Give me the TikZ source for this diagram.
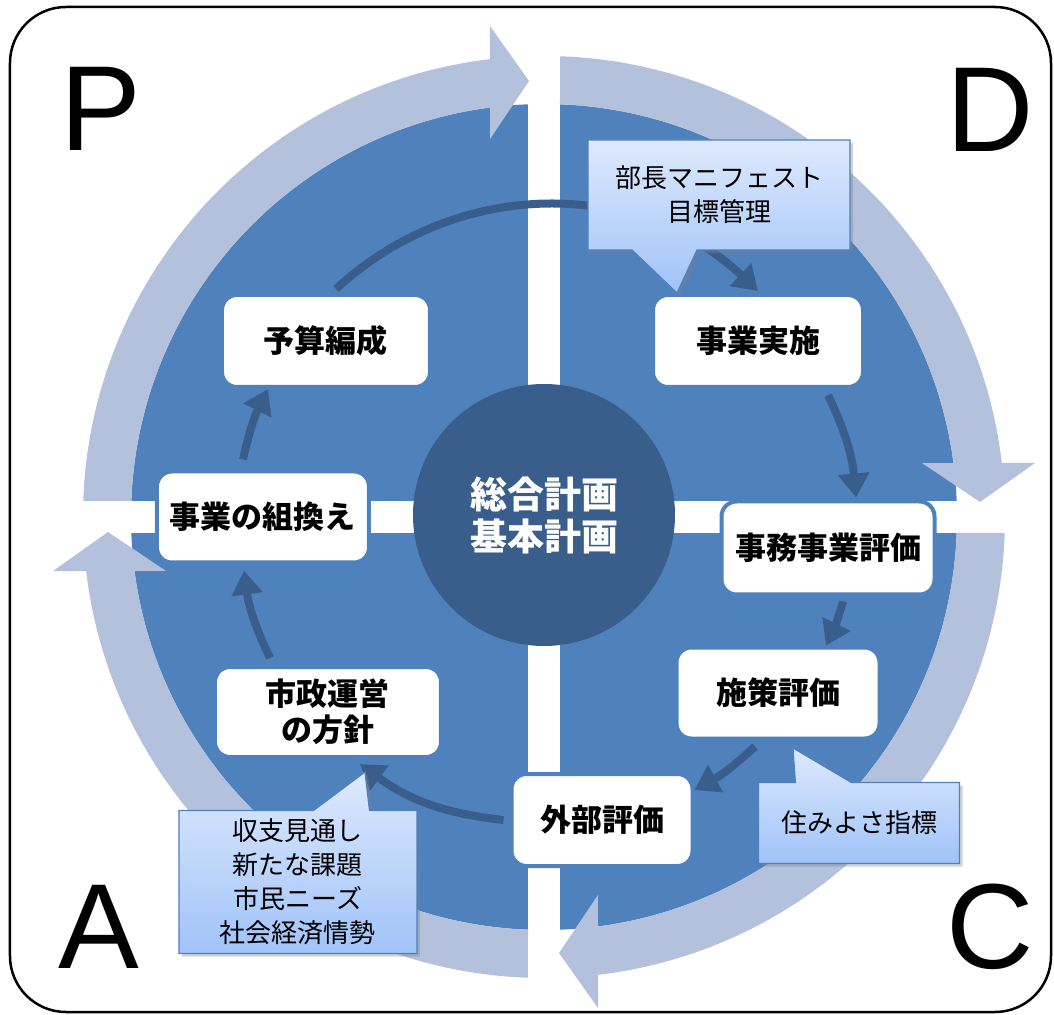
\documentclass[tikz,border=0pt]{standalone}
\usepackage{fontspec}
\setmainfont{Noto Sans CJK JP}
\newfontfamily\latinfont{Liberation Sans}
\usetikzlibrary{arrows.meta,shapes.callouts,shadows}

\definecolor{diskblue}{RGB}{79,129,189}
\definecolor{ringblue}{RGB}{179,193,220}
\definecolor{hubblue}{RGB}{58,94,140}
\definecolor{calltop}{RGB}{222,233,253}
\definecolor{callbot}{RGB}{160,195,249}

\tikzset{
  stage/.style={rectangle, rounded corners=15pt, fill=white, draw=diskblue, line width=4pt,
    inner sep=0pt, align=center, font=\fontsize{31}{36}\selectfont\bfseries},
  hub/.style={circle, fill=hubblue, text=white, minimum size=262pt, inner sep=0pt,
    align=center, font=\fontsize{37}{42}\selectfont\bfseries},
  notebox/.style={draw=diskblue, line width=1.2pt, top color=calltop, bottom color=callbot,
    drop shadow={shadow xshift=3pt, shadow yshift=-3pt, opacity=0.35}},
  notetext/.style={inner sep=0pt, align=center, font=\fontsize{26}{34}\selectfont},
  note/.style={rectangle callout, notebox, notetext, callout pointer width=56pt},
  flow/.style={draw=hubblue, line width=8pt, -{Triangle[length=24pt,width=30pt]}},
  phase/.style={inner sep=0pt, font=\latinfont\fontsize{121}{121}\selectfont},
}

\begin{document}
\begin{tikzpicture}[x=1pt,y=1pt]
\useasboundingbox (-544,-497) rectangle (510,517);
% frame
\draw[line width=2.5pt, rounded corners=56pt] (-534,510) rectangle (507,-495);
% disk in four quarters
\fill[diskblue] (0,0) circle[radius=413pt];
\fill[white] (-420,-16) rectangle (420,16);
\fill[white] (-16,-420) rectangle (16,420);
% PDCA ring arrows
\foreach \r in {0,-90,-180,-270}
  \fill[ringblue, rotate=\r] (178:461) arc[start angle=178, end angle=96.73, radius=461pt]
    -- (-54,491) -- (-15,436) -- (-54,378)
    -- (97.51:413) arc[start angle=97.51, end angle=177.78, radius=413pt] -- cycle;
% centre
\node[hub] (plan) at (0,2) {総合計画\\基本計画};
% stages
\node[stage, minimum width=208pt, minimum height=92pt] (yosan) at (-218,176) {予算編成};
\node[stage, minimum width=210pt, minimum height=92pt] (jisshi) at (214,176) {事業実施};
\node[stage, minimum width=213pt, minimum height=93pt] (jimu) at (284,-31) {事務事業評価};
\node[stage, minimum width=203pt, minimum height=91pt] (shisaku) at (234,-176) {施策評価};
\node[stage, minimum width=181pt, minimum height=92pt] (gaibu) at (58,-303) {外部評価};
\node[stage, minimum width=226pt, minimum height=90pt] (shisei) at (-216,-195) {市政運営\\の方針};
\node[stage, minimum width=212pt, minimum height=91pt] (kumikae) at (-281,0) {事業の組換え};
% cycle
\draw[flow] ([shift={(10,4)}]yosan.north) to[bend left=43] ([yshift=2]jisshi.north);
\draw[flow] ([shift={(70,-6)}]jisshi.south) to[bend left=10] ([shift={(28,2)}]jimu.north);
\draw[flow] ([shift={(15,-5)}]jimu.south) to[bend left=5] ([xshift=48]shisaku.north);
\draw[flow] ([shift={(-23,-6)}]shisaku.south) to[bend left=7] ([yshift=30]gaibu.east);
\draw[flow] ([xshift=-6]gaibu.west) to[bend left=15] ([shift={(32,-5)}]shisei.south);
\draw[flow] ([shift={(-58,7)}]shisei.north) to[bend left=9] ([shift={(-19,-6)}]kumikae.south);
\draw[flow] ([shift={(-20,10)}]kumikae.north) to[bend left=7] ([xshift=-58]yosan.south);
% notes
\path[notebox] (44,377) -- (306,377) -- (306,267) -- (153,267) -- (133,224) -- (88,267)
  -- (44,267) -- cycle;
\node[notetext] (bucho) at (175,322) {部長マニフェスト\\目標管理};
\node[note, minimum width=201pt, minimum height=81pt, callout absolute pointer={(249,-231)}]
  (sumiyosa) at (315,-306) {住みよさ指標};
\node[note, minimum width=238pt, minimum height=143pt, callout absolute pointer={(-179,-255)}]
  (shushi) at (-246,-365) {収支見通し\\新たな課題\\市民ニーズ\\社会経済情勢};
% letters
\node[phase] (p) at (-443,408) {P};
\node[phase] (d) at (446,407) {D};
\node[phase] (c) at (446,-410) {C};
\node[phase] (a) at (-445,-410) {A};
\end{tikzpicture}
\end{document}
